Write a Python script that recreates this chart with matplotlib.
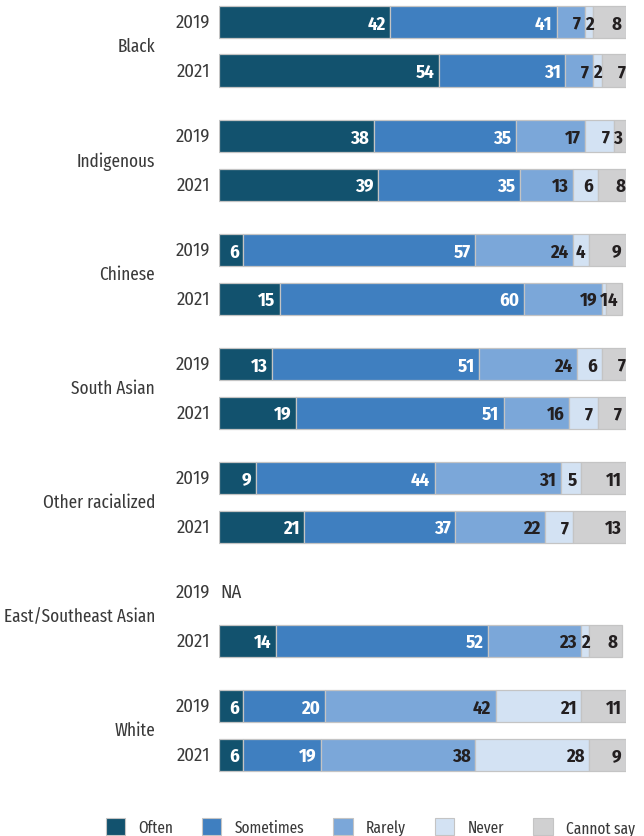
import numpy as np
import matplotlib.pyplot as plt
from matplotlib.patches import Patch

plt.rcParams['font.family'] = ['Fira Sans Condensed', 'Roboto Condensed', 'DejaVu Sans']
narrow = ['Fira Sans Extra Condensed', 'Fira Sans Condensed', 'DejaVu Sans']

# data (percent)
groups = ['Black', 'Indigenous', 'Chinese', 'South Asian', 'Other racialized',
          'East/Southeast Asian', 'White']
years = ['2019', '2021']
answers = ['Often', 'Sometimes', 'Rarely', 'Never', 'Cannot say']

vals_2019 = [
    [42, 41, 7, 2, 8],
    [38, 35, 17, 7, 3],
    [6, 57, 24, 4, 9],
    [13, 51, 24, 6, 7],
    [9, 44, 31, 5, 11],
    None,
    [6, 20, 42, 21, 11],
]
vals_2021 = [
    [54, 31, 7, 2, 7],
    [39, 35, 13, 6, 8],
    [15, 60, 19, 1, 4],
    [19, 51, 16, 7, 7],
    [21, 37, 22, 7, 13],
    [14, 52, 23, 2, 8],
    [6, 19, 38, 28, 9],
]

colors = ['#12526e', '#3f7fc0', '#7ba7d9', '#d3e2f3', '#d0d0d1']
text_colors = ['white', 'white', '#231f20', '#231f20', '#231f20']
grey_txt = '#3a3a3a'

fig = plt.figure(figsize=(6.44, 8.37), dpi=100)
ax = fig.add_axes([219 / 644, 47 / 837, 407 / 644, 790 / 837])

group_gap = 2.35
bar_h = 0.66

for g, name in enumerate(groups):
    y0 = g * group_gap
    for k, rows in enumerate([vals_2019, vals_2021]):
        y = y0 + k
        ax.text(-2.2, y, years[k], ha='right', va='center', fontsize=13.5, color=grey_txt)
        v = rows[g]
        if v is None:
            ax.text(0.3, y, 'NA', ha='left', va='center', fontsize=13.5, color=grey_txt)
            continue
        left = 0
        for i, val in enumerate(v):
            ax.barh(y, val, left=left, height=bar_h, color=colors[i],
                    edgecolor='#c4c4c4', linewidth=0.9)
            end = left + val
            if val >= 3:
                ax.text(end - 1.1, y + 0.03, str(val), ha='right', va='center',
                        fontsize=13.5, fontweight='bold', color=text_colors[i])
            else:
                ax.text(left + val / 2, y + 0.03, str(val), ha='center', va='center',
                        fontsize=13.5, fontweight='bold', color=text_colors[i])
            left = end
    ax.text(-15.7, y0 + 0.5, name, ha='right', va='center', fontsize=13.5,
            color=grey_txt, family=narrow)

ax.set_xlim(0, 100)
ax.set_ylim(15.81, -0.474)
ax.axis('off')

handles = [Patch(facecolor=c, edgecolor='#c4c4c4', linewidth=0.8) for c in colors]
fig.legend(handles, answers, loc='center', bbox_to_anchor=(0.575, 0.011), ncol=5,
           frameon=False, prop={'family': narrow, 'size': 12}, handlelength=1.15,
           handleheight=1.15, columnspacing=1.75, handletextpad=0.8, labelcolor=grey_txt)

fig.savefig('out.png', dpi=100)
